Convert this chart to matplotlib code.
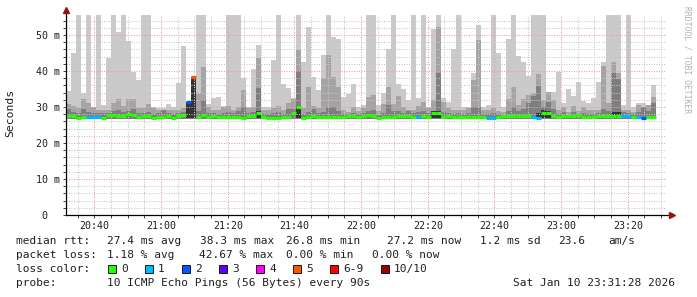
from datetime import datetime, timedelta
import matplotlib
matplotlib.use("Agg")
import matplotlib.pyplot as plt
import matplotlib.dates as mdates
from matplotlib.ticker import MultipleLocator, FixedLocator
from matplotlib.patches import Rectangle
from matplotlib.lines import Line2D


# ==========================
# Data (ms, one value per 90 s step)
# ==========================
START = datetime(2026, 1, 10, 20, 31, 28)
END = datetime(2026, 1, 10, 23, 31, 28)
STEP_SEC = 90

median_ms = [
    27.5, 27.5, 27.0, 27.1, 27.1, 27.1, 27.1, 26.9, 27.7, 27.8,
    27.5, 27.5, 28.0, 27.7, 27.1, 27.5, 27.4, 26.9, 27.3, 27.2,
    27.4, 27.0, 27.4, 27.8, 31.5, 38.4, 27.3, 27.7, 27.2, 27.4,
    27.1, 27.1, 27.1, 27.1, 27.2, 27.0, 27.4, 27.5, 28.4, 27.1,
    26.9, 26.9, 27.0, 27.3, 27.3, 28.4, 30.1, 26.9, 27.3, 27.4,
    27.3, 27.2, 27.3, 27.3, 27.2, 27.3, 27.4, 27.6, 27.3, 27.6,
    27.7, 27.4, 26.9, 27.1, 27.3, 27.3, 27.4, 27.6, 27.5, 27.2,
    27.1, 27.4, 27.3, 28.4, 28.4, 27.3, 27.4, 27.1, 27.2, 27.2,
    27.3, 27.2, 27.3, 27.1, 26.9, 26.9, 27.1, 27.4, 27.5, 27.4,
    27.4, 27.5, 27.4, 27.1, 26.9, 28.2, 28.4, 27.6, 27.2, 27.4,
    27.5, 27.4, 27.7, 27.2, 27.3, 27.3, 27.4, 27.6, 27.5, 27.6,
    27.4, 27.4, 27.4, 27.1, 27.1, 26.9, 27.2, 27.2,
]

loss_count = [
    0, 0, 0, 0, 1, 1, 1, 0, 0, 0,
    0, 0, 0, 0, 0, 0, 0, 0, 0, 0,
    0, 0, 0, 0, 2, 5, 0, 0, 0, 0,
    0, 0, 0, 0, 0, 0, 0, 0, 0, 0,
    0, 0, 0, 0, 0, 0, 0, 0, 0, 0,
    0, 0, 0, 0, 0, 0, 0, 0, 0, 0,
    0, 0, 0, 0, 0, 0, 0, 0, 0, 0,
    1, 0, 0, 0, 0, 0, 0, 0, 0, 0,
    0, 0, 0, 0, 1, 1, 0, 0, 0, 0,
    0, 0, 0, 1, 1, 0, 0, 0, 0, 0,
    0, 0, 0, 0, 0, 0, 0, 0, 0, 0,
    0, 1, 1, 0, 1, 2, 0, 0,
]

# highest ping of each step (light smoke)
ping_max = [
    34.5, 45.1, 60.0, 34.0, 60.0, 30.1, 60.0, 30.5, 43.7, 60.0,
    50.8, 60.0, 48.3, 39.8, 37.5, 60.0, 60.0, 30.0, 29.6, 29.6,
    30.8, 29.9, 36.6, 47.0, 31.5, 38.4, 60.0, 60.0, 30.8, 32.6,
    32.8, 30.3, 60.0, 60.0, 60.0, 38.0, 30.0, 40.5, 47.2, 29.9,
    29.9, 43.0, 60.0, 36.5, 35.2, 32.5, 60.0, 42.6, 52.3, 38.4,
    34.7, 44.4, 60.0, 49.5, 49.0, 32.8, 33.7, 36.4, 30.0, 30.5,
    60.0, 60.0, 30.5, 34.0, 46.0, 60.0, 36.5, 34.9, 31.9, 60.0,
    32.5, 60.0, 30.0, 51.6, 60.0, 32.5, 31.5, 46.0, 60.0, 30.0,
    30.0, 39.5, 52.8, 30.0, 30.5, 60.0, 44.9, 30.0, 48.8, 60.0,
    44.2, 42.6, 38.6, 60.0, 60.0, 60.0, 31.0, 34.2, 39.8, 31.0,
    34.9, 33.1, 37.0, 31.8, 31.0, 32.5, 37.0, 42.6, 60.0, 60.0,
    60.0, 30.5, 60.0, 30.0, 31.2, 31.0, 30.0, 36.1,
]

# second band of smoke
ping_hi2 = [
    30.8, 30.3, 29.6, 32.3, 31.2, 30.0, 29.1, 29.1, 29.1, 31.2,
    32.3, 30.3, 32.1, 32.3, 29.6, 29.6, 30.8, 29.6, 29.1, 29.1,
    29.1, 29.3, 29.1, 29.6, 31.5, 38.4, 34.0, 41.2, 30.0, 29.3,
    29.1, 29.9, 30.3, 29.3, 30.0, 34.7, 29.6, 30.0, 43.5, 29.1,
    29.1, 29.6, 30.3, 29.1, 31.0, 32.3, 45.9, 29.6, 35.5, 30.3,
    29.6, 38.0, 44.4, 38.4, 35.5, 29.1, 28.7, 29.9, 28.9, 29.6,
    32.8, 33.3, 29.0, 30.8, 35.6, 30.8, 33.1, 29.9, 29.1, 29.1,
    30.3, 31.5, 29.6, 31.9, 52.3, 31.5, 29.6, 29.1, 29.1, 29.1,
    29.6, 37.5, 48.6, 29.1, 29.1, 29.6, 29.0, 28.5, 32.1, 35.5,
    30.5, 32.1, 33.3, 34.0, 39.2, 31.9, 34.2, 31.9, 29.1, 30.0,
    28.7, 30.3, 29.0, 30.0, 29.1, 29.1, 29.3, 41.3, 31.0, 42.6,
    39.5, 29.1, 29.3, 28.7, 30.5, 29.9, 30.5, 32.7,
]

# third band of smoke
ping_hi3 = [
    29.5, 28.6, 28.4, 29.5, 28.6, 28.2, 28.2, 28.2, 28.4, 29.0,
    29.2, 28.6, 28.8, 29.5, 28.3, 28.4, 28.6, 28.0, 28.2, 29.3,
    28.2, 28.1, 28.3, 28.6, 31.5, 38.4, 29.0, 31.9, 28.2, 28.3,
    28.1, 28.3, 28.5, 28.2, 29.0, 30.0, 28.3, 28.6, 35.2, 28.0,
    28.0, 28.2, 28.5, 28.1, 29.5, 29.4, 40.1, 28.0, 28.5, 29.5,
    28.3, 28.7, 30.0, 30.0, 28.8, 28.1, 28.0, 28.4, 28.0, 28.3,
    28.8, 29.2, 27.9, 28.3, 30.5, 28.8, 28.9, 28.4, 29.0, 28.2,
    28.5, 28.9, 28.2, 29.0, 39.4, 28.6, 28.2, 28.0, 28.2, 28.1,
    28.3, 30.0, 30.0, 28.0, 28.0, 28.2, 28.0, 27.8, 29.0, 30.0,
    29.0, 29.4, 31.0, 33.0, 35.9, 30.0, 31.5, 29.5, 28.1, 28.5,
    27.9, 28.6, 28.0, 28.4, 28.0, 28.1, 28.2, 29.5, 29.0, 39.5,
    37.7, 28.5, 28.3, 28.0, 28.6, 30.0, 28.8, 31.2,
]

# steps with a visible dark core around the median
core_steps = [24, 25, 38, 46, 73, 74, 94, 95, 96, 109, 110]
core_top = [31.5, 38.4, 29.0, 30.4, 28.8, 28.8, 28.2, 29.2, 29.0, 28.6, 28.5]

PING_MIN = 26.8

loss_colors = {0: "#26ff00", 1: "#00b8ff", 2: "#0059ff", 3: "#5e00ff",
               4: "#ff00ff", 5: "#ff5500", 6: "#ff0000", 10: "#a10000"}
legend_labels = ["0", "1", "2", "3", "4", "5", "6-9", "10/10"]
legend_keys = [0, 1, 2, 3, 4, 5, 6, 10]


def loss_color(n):
    if 6 <= n <= 9:
        return loss_colors[6]
    return loss_colors[n]


# ==========================
# Figure
# ==========================
W, H = 697, 297
MONO = "DejaVu Sans Mono"

fig = plt.figure(figsize=(W / 100, H / 100), dpi=100)
ax = fig.add_axes([66 / W, (H - 215) / H, 600 / W, 200.5 / H])

times = [START + timedelta(seconds=STEP_SEC * i) for i in range(len(median_ms))]
x = mdates.date2num(times)
width = STEP_SEC / 86400.0

bands = [(ping_max, "#cacaca"), (ping_hi2, "#a4a4a4"), (ping_hi3, "#7e7e7e")]
for values, col in bands:
    ax.bar(x, [v - PING_MIN for v in values], width=width, bottom=PING_MIN,
           align="edge", color=col, linewidth=0, zorder=1)

ax.bar([x[i] for i in core_steps],
       [t - 26.9 for t in core_top], width=width, bottom=26.9,
       align="edge", color="#333333", linewidth=0, zorder=2)

ax.hlines(median_ms, x, x + width, colors=[loss_color(n) for n in loss_count],
          linewidth=2.3, zorder=4)

ax.set_xlim(mdates.date2num(START), mdates.date2num(END))
ax.set_ylim(0, 55.7)

ax.xaxis.set_major_locator(mdates.MinuteLocator(byminute=[0, 20, 40]))
ax.xaxis.set_minor_locator(mdates.MinuteLocator(byminute=range(0, 60, 5)))
ax.xaxis.set_major_formatter(mdates.DateFormatter("%H:%M"))

ax.yaxis.set_major_locator(FixedLocator([0, 10, 20, 30, 40, 50]))
ax.yaxis.set_minor_locator(MultipleLocator(2))
ax.set_yticklabels(["0  ", "10 m", "20 m", "30 m", "40 m", "50 m"])

ax.grid(which="minor", color="#c8c8c8", linestyle=(0, (1, 1.4)), linewidth=0.75, zorder=5)
ax.grid(which="major", color="#e8a0a0", linestyle=(0, (1, 1.4)), linewidth=0.75, zorder=5)
ax.set_axisbelow(False)

for side in ["top", "right", "left", "bottom"]:
    ax.spines[side].set_visible(False)

ax.tick_params(which="both", length=2, width=0.7, color="#404040",
               labelsize=7.2, pad=2.5)
for lbl in ax.get_xticklabels() + ax.get_yticklabels():
    lbl.set_fontfamily(MONO)
    lbl.set_color("#202020")

# axis lines with arrows
fig.add_artist(Line2D([66 / W, 670 / W], [(H - 215) / H] * 2, color="black",
                      linewidth=0.9, transform=fig.transFigure))
fig.add_artist(Line2D([66 / W] * 2, [(H - 215) / H, (H - 12) / H], color="black",
                      linewidth=0.9, transform=fig.transFigure))
fig.add_artist(Line2D([672 / W], [(H - 215) / H], marker=">", markersize=4,
                      color="#9b1010", linestyle="none", transform=fig.transFigure))
fig.add_artist(Line2D([66 / W], [(H - 10) / H], marker="^", markersize=4,
                      color="#9b1010", linestyle="none", transform=fig.transFigure))

fig.text(10 / W, (H - 113) / H, "Seconds", rotation=90, fontsize=8.2,
         family=MONO, ha="center", va="center", color="#202020")
fig.text(687 / W, (H - 60) / H, "RRDTOOL / TOBI OETIKER", rotation=270,
         fontsize=5.8, family=MONO, ha="center", va="center", color="#b0b0b0")


# ==========================
# Legend text
# ==========================
def put(px, py, s):
    fig.text(px / W, (H - py) / H, s, fontsize=8.0, family=MONO,
             ha="left", va="center", color="#202020")


row1, row2, row3, row4 = 241, 255, 269, 283

put(16, row1, "median rtt:")
put(107, row1, "27.4 ms avg")
put(200, row1, "38.3 ms max")
put(286, row1, "26.8 ms min")
put(387, row1, "27.2 ms now")
put(480, row1, "1.2 ms sd")
put(558, row1, "23.6")
put(608, row1, "am/s")

put(16, row2, "packet loss:")
put(107, row2, "1.18 % avg")
put(199, row2, "42.67 % max")
put(286, row2, "0.00 % min")
put(372, row2, "0.00 % now")

put(16, row3, "loss color:")
square_x = [108, 145, 182, 219, 256, 293, 330, 381]
for sx, key, lab in zip(square_x, legend_keys, legend_labels):
    fig.add_artist(Rectangle((sx / W, (H - row3 - 4) / H), 8 / W, 8 / H,
                             transform=fig.transFigure, facecolor=loss_color(key),
                             edgecolor="black", linewidth=0.6))
    put(sx + 13, row3, lab)

put(16, row4, "probe:")
put(107, row4, "10 ICMP Echo Pings (56 Bytes) every 90s")
put(513, row4, "Sat Jan 10 23:31:28 2026")

fig.savefig("out.png", dpi=100)
